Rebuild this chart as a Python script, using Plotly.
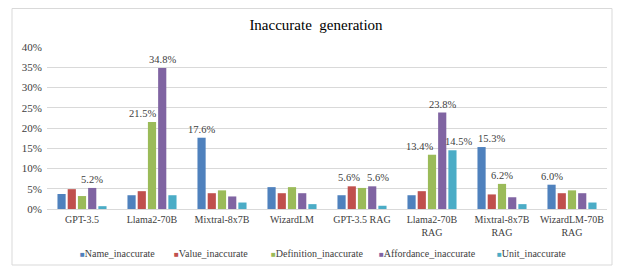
import plotly.graph_objects as go

categories = ["GPT-3.5", "Llama2-70B", "Mixtral-8x7B", "WizardLM", "GPT-3.5 RAG",
              "Llama2-70B<br>RAG", "Mixtral-8x7B<br>RAG", "WizardLM-70B<br>RAG"]
series_names = ["Name_inaccurate", "Value_inaccurate", "Definition_inaccurate",
                "Affordance_inaccurate", "Unit_inaccurate"]
name_inaccurate = [3.7, 3.4, 17.6, 5.4, 3.4, 3.4, 15.3, 6.0]
value_inaccurate = [4.9, 4.4, 3.9, 3.9, 5.6, 4.4, 3.6, 3.9]
definition_inaccurate = [3.2, 21.5, 4.6, 5.4, 5.2, 13.4, 6.2, 4.6]
affordance_inaccurate = [5.2, 34.8, 3.1, 3.9, 5.6, 23.8, 2.9, 3.9]
unit_inaccurate = [0.7, 3.4, 1.6, 1.2, 0.8, 14.5, 1.2, 1.6]
values = [name_inaccurate, value_inaccurate, definition_inaccurate,
          affordance_inaccurate, unit_inaccurate]
# which bars carry a data label (by category index)
labelled = [
    [2, 6, 7],
    [4],
    [1, 5, 6],
    [0, 1, 4, 5],
    [5],
]
colors = ["#4F81BD", "#C0504D", "#9BBB59", "#8064A2", "#4BACC6"]

font = "Liberation Serif"

# layout geometry (pixels in the figure; page body adds an 8px offset)
W, H = 624, 268
L, R, T, B = 39, 25, 39, 67
pw, ph = W - L - R, H - T - B
BARGAP, GROUPGAP = 0.27, 0.2
legend_px = [70, 164, 261, 369, 487]
legend_py = 246
# horizontal nudges (px) of data labels to avoid collisions, keyed (series, category)
label_nudge = {(2, 1): -10, (1, 4): -3, (3, 4): 6, (2, 5): -13, (4, 5): 6, (0, 6): 10}


def px_x(px):
    return (px - L) / pw


def px_y(py):
    return (H - B - py) / ph


fig = go.Figure()
for name, vals, col in zip(series_names, values, colors):
    fig.add_trace(go.Bar(
        name=name, x=categories, y=[v / 100 for v in vals],
        marker=dict(color=col, line=dict(width=0)), showlegend=False,
    ))

annotations = []
cat_w = pw / len(categories)
slot = cat_w * (1 - BARGAP) / len(series_names)
for k, (vals, lab) in enumerate(zip(values, labelled)):
    for i in lab:
        annotations.append(dict(
            xref="x", yref="y", x=categories[i], y=vals[i] / 100,
            xanchor="center", yanchor="bottom", showarrow=False,
            xshift=(k - (len(series_names) - 1) / 2) * slot + label_nudge.get((k, i), 0),
            yshift=1,
            text=f"{vals[i]:.1f}%",
            font=dict(family=font, size=10.5, color="#404040"),
        ))

for name, col, lx in zip(series_names, colors, legend_px):
    annotations.append(dict(
        xref="paper", yref="paper", x=px_x(lx), y=px_y(legend_py),
        xanchor="left", yanchor="middle", showarrow=False,
        text=f"<span style='color:{col}; font-size:8px'>■</span>{name}",
        font=dict(family=font, size=10, color="#404040"),
    ))

fig.update_layout(
    width=W, height=H,
    margin=dict(l=L, r=R, t=T, b=B, autoexpand=False),
    paper_bgcolor="white", plot_bgcolor="white",
    barmode="group", bargap=BARGAP, bargroupgap=GROUPGAP,
    font=dict(family=font, size=10, color="#404040"),
    title=dict(text="Inaccurate  generation", x=px_x(W / 2 - 4), xanchor="center",
               xref="paper", y=1 - 17 / H, yanchor="middle",
               font=dict(family=font, size=15, color="#000000")),
    xaxis=dict(showgrid=False, showline=True, linecolor="#D9D9D9",
               tickfont=dict(family=font, size=10, color="#404040"), ticks="",
               ticklabelstandoff=1),
    yaxis=dict(range=[0, 0.4], dtick=0.05, tickformat=".0%",
               showgrid=True, gridcolor="#D9D9D9", gridwidth=1,
               zeroline=False, showline=False, ticks="", ticklabelstandoff=4,
               tickfont=dict(family=font, size=11, color="#404040")),
    annotations=annotations,
    shapes=[dict(type="rect", xref="paper", yref="paper",
                 x0=px_x(4), x1=px_x(604), y0=px_y(257), y1=px_y(0.5),
                 line=dict(color="#D9D9D9", width=1), layer="below")],
)

fig.write_html("out.html")
